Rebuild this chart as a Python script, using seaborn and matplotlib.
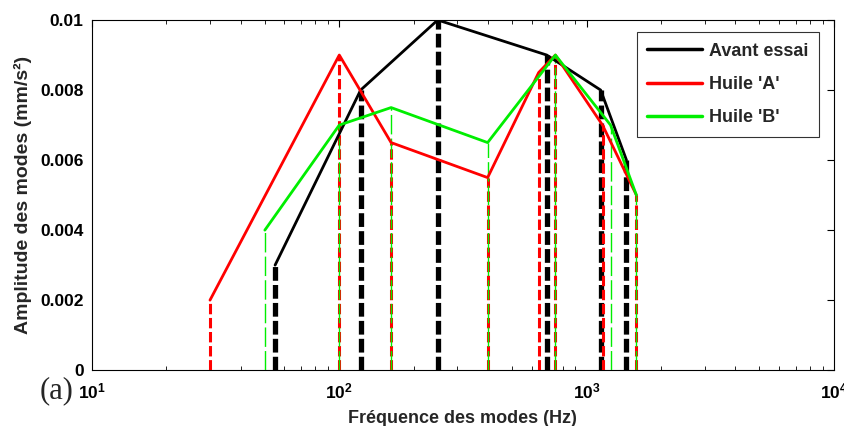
import numpy as np
import pandas as pd
import matplotlib
matplotlib.use("Agg")
import matplotlib.pyplot as plt
import seaborn as sns

# Fréquences (Hz) et amplitudes (mm/s²) des modes
freq_avant = [55, 122, 250, 690, 1140, 1450]
amp_avant = [0.003, 0.008, 0.010, 0.009, 0.008, 0.006]

freq_huile_a = [30, 100, 162, 398, 640, 748, 1160, 1590]
amp_huile_a = [0.002, 0.009, 0.0065, 0.0055, 0.0085, 0.009, 0.007, 0.005]

freq_huile_b = [50, 100, 162, 398, 748, 1250, 1590]
amp_huile_b = [0.004, 0.007, 0.0075, 0.0065, 0.009, 0.007, 0.005]

series = ["Avant essai", "Huile 'A'", "Huile 'B'"]
couleurs = ["black", "#ff0000", "#00ee00"]

df = pd.concat([
    pd.DataFrame({"freq": freq_avant, "amp": amp_avant, "essai": series[0]}),
    pd.DataFrame({"freq": freq_huile_a, "amp": amp_huile_a, "essai": series[1]}),
    pd.DataFrame({"freq": freq_huile_b, "amp": amp_huile_b, "essai": series[2]}),
], ignore_index=True)

sns.set_style("white")
plt.rcParams['font.family'] = ['Liberation Sans', 'DejaVu Sans']
plt.rcParams['font.weight'] = 'bold'
plt.rcParams['mathtext.fontset'] = 'custom'
plt.rcParams['mathtext.bf'] = 'Liberation Sans:bold'
plt.rcParams['mathtext.rm'] = 'Liberation Sans:bold'
plt.rcParams['mathtext.default'] = 'bf'

fig = plt.figure(figsize=(8.44, 4.26), dpi=100)
ax = fig.add_axes([0.109, 0.131, 0.879, 0.822])

# Lignes pointillées verticales (stems)
ax.vlines(freq_avant, 0, amp_avant, colors="black", linewidth=3.8,
          linestyles=(0, (2.6, 0.8)), zorder=2)
ax.vlines(freq_huile_a, 0, amp_huile_a, colors="#ff0000", linewidth=2.2,
          linestyles=(0, (3.4, 1.2)), zorder=3)
ax.vlines(freq_huile_b, 0, amp_huile_b, colors="#00ee00", linewidth=1.0,
          linestyles=(0, (14, 3)), zorder=4)

# Courbes
sns.lineplot(data=df, x="freq", y="amp", hue="essai", palette=couleurs,
             sort=False, linewidth=2, ax=ax, zorder=5)

ax.set_xscale('log')
ax.set_xlim(10, 1e4)
ax.set_ylim(0, 0.01)
ax.set_yticks([0, 0.002, 0.004, 0.006, 0.008, 0.01])
ax.set_yticklabels(["0", "0.002", "0.004", "0.006", "0.008", "0.01"])
ax.set_xticks([10, 100, 1000, 10000])
ax.set_xticklabels([r"$10^{1}$", r"$10^{2}$", r"$10^{3}$", r"$10^{4}$"])

for s in ax.spines.values():
    s.set_color("black")
    s.set_linewidth(0.8)
ax.tick_params(axis='both', which='both', direction='in', top=True, right=True,
               colors='black')
ax.tick_params(axis='both', which='major', length=5)
ax.tick_params(axis='y', labelsize=12.5, pad=6)
ax.tick_params(axis='x', labelsize=12.5, pad=8)
ax.tick_params(axis='x', which='minor', length=3, bottom=True, top=True)

ax.set_xlabel("Fréquence des modes (Hz)", fontsize=13, fontweight='bold', labelpad=6)
ax.set_ylabel("Amplitude des modes (mm/s²)", fontsize=14, fontweight='bold', labelpad=6)

leg = ax.legend(loc='upper right', bbox_to_anchor=(0.980, 0.966), borderaxespad=0,
                fontsize=13, frameon=True, fancybox=False, edgecolor='black',
                handlelength=3.0, handletextpad=0.4, borderpad=0.6,
                labelspacing=0.9)
leg.get_frame().set_linewidth(0.8)
for t in leg.get_texts():
    t.set_fontweight('bold')
for l in leg.get_lines():
    l.set_linewidth(2.5)

fig.text(0.047, 0.082, "(a)", fontsize=22, family=['Liberation Serif'],
         fontweight='normal', ha='left', va='center')

plt.savefig("out.png", dpi=100)
